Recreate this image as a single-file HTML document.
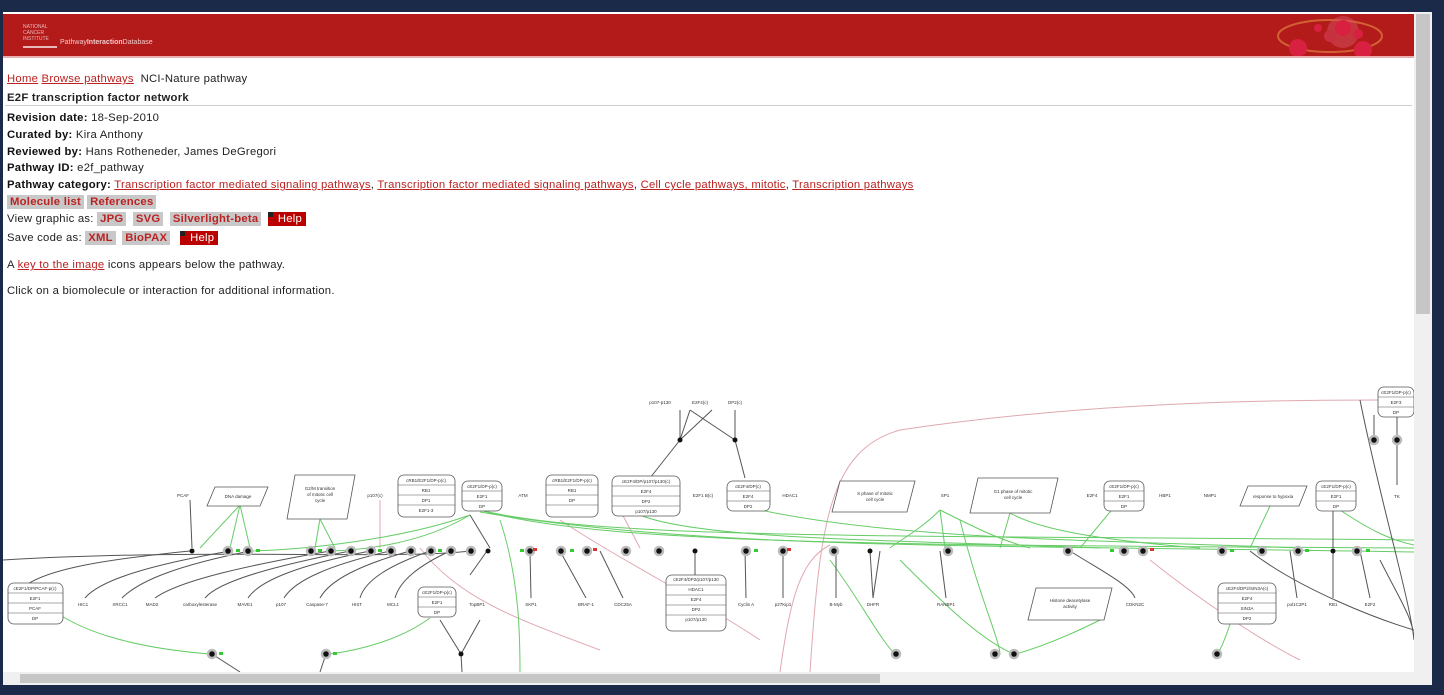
<!DOCTYPE html>
<html><head><meta charset="utf-8"><style>
body{margin:0;width:1444px;height:695px;background:#1c2a4a;overflow:hidden;font-family:"Liberation Sans",sans-serif;position:relative}
#page{position:absolute;left:3px;top:12px;width:1411px;height:660px;background:#fff;overflow:hidden}
#hdr{position:absolute;left:0;top:2px;width:1411px;height:42px;background:#b31a1a;border-bottom:2px solid #e6b0b0}
.t{position:absolute;left:4px;font-size:11.3px;letter-spacing:0.25px;color:#222;white-space:nowrap}
.t b{color:#111}
a{color:#b22;text-decoration:underline}
.btn{background:#c8c8c8;color:#b22;font-weight:bold;padding:1px 3px;margin-right:3px}
.hb{background:#b00;color:#fff;padding:1px 4px 1px 10px;position:relative}
.hb:before{content:"";position:absolute;left:0;top:0;width:5px;height:5px;background:#222}
#vs{position:absolute;left:1414px;top:12px;width:18px;height:660px;background:#f0f0f0}
#vt{position:absolute;left:1416px;top:14px;width:14px;height:300px;background:#c6c6c6}
#hs{position:absolute;left:3px;top:672px;width:1429px;height:13px;background:#f0f0f0}
#ht{position:absolute;left:20px;top:674px;width:860px;height:9px;background:#c6c6c6}
svg text{font-family:"Liberation Sans",sans-serif;font-size:4.5px;fill:#333}
</style></head><body>
<div id="page">
<div id="hdr">
<div style="position:absolute;left:20px;top:10px;width:34px;height:22px;border-bottom:2px solid #e8b8b8;color:#e8b8b8;font-size:5px;line-height:6px">NATIONAL<br>CANCER<br>INSTITUTE</div>
<div style="position:absolute;left:57px;top:25px;font-size:7px;color:#f0c8c8">Pathway<b>Interaction</b>Database</div>
<svg style="position:absolute;left:1265px;top:0" width="130" height="42"><ellipse cx="62" cy="22" rx="52" ry="16" fill="none" stroke="#e08040" stroke-width="2" opacity=".7"/><circle cx="75" cy="18" r="16" fill="#d85060" opacity=".5"/><circle cx="30" cy="34" r="9" fill="#d82040"/><circle cx="75" cy="14" r="8" fill="#d82040"/><circle cx="95" cy="36" r="9" fill="#d82040"/><circle cx="62" cy="22" r="6" fill="#c83040"/><circle cx="90" cy="20" r="5" fill="#d82040"/><circle cx="50" cy="14" r="4" fill="#d82040"/></svg>
</div>
<div class="t" style="top:61px"><a>Home</a> <a>Browse pathways</a> &nbsp;NCI-Nature pathway</div>
<div class="t" style="top:80px;font-weight:bold">E2F transcription factor network</div>
<div style="position:absolute;left:2px;top:93px;width:1407px;height:1px;background:#ccc"></div>
<div class="t" style="top:100px"><b>Revision date:</b> 18-Sep-2010</div>
<div class="t" style="top:117px"><b>Curated by:</b> Kira Anthony</div>
<div class="t" style="top:134px"><b>Reviewed by:</b> Hans Rotheneder, James DeGregori</div>
<div class="t" style="top:150px"><b>Pathway ID:</b> e2f_pathway</div>
<div class="t" style="top:167px"><b>Pathway category:</b> <a>Transcription factor mediated signaling pathways</a>, <a>Transcription factor mediated signaling pathways</a>, <a>Cell cycle pathways, mitotic</a>, <a>Transcription pathways</a></div>
<div class="t" style="top:184px"><span class="btn">Molecule list</span><span class="btn">References</span></div>
<div class="t" style="top:201px">View graphic as: <span class="btn">JPG</span> <span class="btn">SVG</span> <span class="btn">Silverlight-beta</span> <span class="hb">Help</span></div>
<div class="t" style="top:220px">Save code as: <span class="btn">XML</span> <span class="btn">BioPAX</span> &nbsp;<span class="hb">Help</span></div>
<div class="t" style="top:247px">A <a>key to the image</a> icons appears below the pathway.</div>
<div class="t" style="top:273px">Click on a biomolecule or interaction for additional information.</div>
<svg style="position:absolute;left:0;top:0" width="1411" height="660" viewBox="3 12 1411 660">
<g fill="none" stroke-width="1">
<g stroke="#e0a8b0">
<path d="M810 672 C820 520 830 450 900 430 C1100 400 1300 400 1380 400"/>
<path d="M780 672 C790 600 800 560 830 545"/>
<path d="M560 520 C620 560 700 600 760 640"/>
<path d="M420 548 C460 600 520 620 600 650"/>
<path d="M380 500 L380 548"/>
<path d="M620 510 L640 548"/>
<path d="M1150 560 C1200 600 1260 640 1300 660"/>
</g>
<g stroke="#6c6">
<path d="M480 510 C600 540 900 535 1414 540"/>
<path d="M480 510 C600 545 900 545 1414 548"/>
<path d="M480 512 C700 550 1000 545 1414 552"/>
<path d="M470 515 C400 540 300 550 250 551"/>
<path d="M470 515 C420 545 360 550 330 551"/>
<path d="M240 505 L230 548"/><path d="M240 505 L250 548"/><path d="M240 505 L200 548"/>
<path d="M320 519 L315 548"/><path d="M320 519 L335 548"/>
<path d="M640 515 C700 540 900 540 1100 548"/>
<path d="M760 510 C900 540 1100 540 1300 548"/>
<path d="M940 510 C920 530 900 540 890 548"/>
<path d="M940 510 L945 548"/><path d="M940 510 C980 530 1000 540 1030 548"/>
<path d="M1010 513 C1040 530 1100 540 1200 548"/>
<path d="M1010 513 L1000 548"/>
<path d="M960 520 C980 600 1000 640 1000 655"/>
<path d="M500 520 C520 580 520 640 520 672"/>
<path d="M830 560 C860 600 880 640 896 655"/>
<path d="M60 615 C100 640 160 650 210 654"/>
<path d="M430 618 C400 640 360 650 330 654"/>
<path d="M1120 500 L1080 548"/><path d="M1270 506 L1250 548"/>
<path d="M1340 510 C1370 530 1390 540 1414 545"/>
<path d="M1100 620 C1060 640 1030 650 1016 654"/>
<path d="M1230 624 C1225 640 1220 650 1218 654"/>
<path d="M900 560 C940 600 980 640 1014 654"/>
</g>
<g stroke="#555">
<path d="M190 551 C100 560 40 570 20 590"/>
<path d="M230 551 C150 565 100 580 85 598"/>
<path d="M250 551 C180 565 140 580 122 598"/>
<path d="M330 551 C250 565 180 580 155 598"/>
<path d="M350 551 C280 565 220 580 205 598"/>
<path d="M370 551 C300 565 260 580 248 598"/>
<path d="M390 551 C330 565 295 580 284 598"/>
<path d="M410 551 C360 565 330 580 320 598"/>
<path d="M430 551 C390 565 365 580 360 598"/>
<path d="M450 551 C420 565 400 580 395 598"/>
<path d="M470 551 C400 560 200 548 3 560"/>
<path d="M487 551 L470 575"/>
<path d="M530 551 L531 598"/><path d="M560 551 L586 598"/><path d="M600 551 L623 598"/>
<path d="M695 551 L695 575"/><path d="M745 551 L746 598"/><path d="M783 551 L783 598"/>
<path d="M836 551 L836 598"/><path d="M870 551 L873 598"/><path d="M880 551 L873 598"/>
<path d="M940 551 L946 598"/><path d="M1070 551 C1100 570 1130 585 1135 598"/>
<path d="M1290 551 L1297 598"/><path d="M1333 551 L1333 598"/><path d="M1360 551 L1370 598"/>
<path d="M680 410 L680 440"/><path d="M690 410 L680 440 L712 410"/><path d="M735 410 L735 440"/><path d="M690 410 L735 440"/>
<path d="M680 440 L650 478"/><path d="M735 440 L745 478"/>
<path d="M1374 440 L1374 415"/><path d="M1397 440 L1397 415"/><path d="M1397 440 L1397 485"/>
<path d="M190 500 L192 548"/><path d="M470 515 L490 548"/>
<path d="M1333 505 L1333 548"/>
<path d="M212 654 L240 672"/><path d="M326 654 L320 672"/><path d="M461 654 L462 672"/><path d="M440 620 L461 654"/><path d="M480 620 L461 654"/>
<path d="M1360 400 C1380 500 1410 600 1414 640"/>
<path d="M1380 560 C1400 600 1414 620 1414 640"/>
<path d="M1250 551 C1300 590 1380 620 1414 630"/>
</g>
</g>
<g fill="#fff" stroke="#555" stroke-width=".8">
<rect x="398" y="475" width="57" height="42" rx="6"/><rect x="462" y="481" width="40" height="30" rx="6"/>
<rect x="546" y="475" width="52" height="42" rx="6"/><rect x="612" y="476" width="68" height="40" rx="6"/>
<rect x="727" y="481" width="43" height="30" rx="6"/><rect x="1104" y="481" width="40" height="30" rx="6"/>
<rect x="1316" y="481" width="40" height="30" rx="6"/><rect x="1378" y="387" width="36" height="30" rx="6"/>
<rect x="8" y="583" width="55" height="41" rx="6"/><rect x="418" y="587" width="38" height="30" rx="6"/>
<rect x="666" y="575" width="60" height="56" rx="6"/><rect x="1218" y="583" width="58" height="41" rx="6"/>
<polygon points="215,487 268,487 260,506 207,506"/><polygon points="295,475 355,475 347,519 287,519"/>
<polygon points="840,481 915,481 907,512 832,512"/><polygon points="978,478 1058,478 1050,513 970,513"/>
<polygon points="1248,486 1307,486 1299,506 1240,506"/><polygon points="1036,588 1112,588 1104,620 1028,620"/>
</g>
<g stroke="#555" stroke-width=".5">
<path d="M398 485h57M398 495h57M398 505h57M462 491h40M462 501h40M546 485h52M546 495h52M546 505h52M612 486h68M612 496h68M612 506h68M727 491h43M727 501h43M1104 491h40M1104 501h40M1316 491h40M1316 501h40M1378 397h36M1378 407h36M8 593h55M8 603h55M8 613h55M418 597h38M418 607h38M666 585h60M666 595h60M666 605h60M666 615h60M1218 593h58M1218 603h58M1218 613h58"/>
</g>
<g fill="#111" stroke="#bbb" stroke-width="2.5">
<circle cx="228" cy="551" r="4"/><circle cx="248" cy="551" r="4"/><circle cx="311" cy="551" r="4"/><circle cx="331" cy="551" r="4"/><circle cx="351" cy="551" r="4"/><circle cx="371" cy="551" r="4"/><circle cx="391" cy="551" r="4"/><circle cx="411" cy="551" r="4"/><circle cx="431" cy="551" r="4"/><circle cx="451" cy="551" r="4"/><circle cx="471" cy="551" r="4"/><circle cx="530" cy="551" r="4"/><circle cx="561" cy="551" r="4"/><circle cx="587" cy="551" r="4"/><circle cx="626" cy="551" r="4"/><circle cx="659" cy="551" r="4"/><circle cx="746" cy="551" r="4"/><circle cx="783" cy="551" r="4"/><circle cx="834" cy="551" r="4"/><circle cx="948" cy="551" r="4"/><circle cx="1068" cy="551" r="4"/><circle cx="1124" cy="551" r="4"/><circle cx="1143" cy="551" r="4"/><circle cx="1222" cy="551" r="4"/><circle cx="1262" cy="551" r="4"/><circle cx="1298" cy="551" r="4"/><circle cx="1357" cy="551" r="4"/><circle cx="1374" cy="440" r="4"/><circle cx="1397" cy="440" r="4"/><circle cx="212" cy="654" r="4"/><circle cx="326" cy="654" r="4"/><circle cx="896" cy="654" r="4"/><circle cx="995" cy="654" r="4"/><circle cx="1014" cy="654" r="4"/><circle cx="1217" cy="654" r="4"/>
</g>
<g fill="#111"><circle cx="192" cy="551" r="2.5"/><circle cx="488" cy="551" r="2.5"/><circle cx="695" cy="551" r="2.5"/><circle cx="870" cy="551" r="2.5"/><circle cx="1333" cy="551" r="2.5"/><circle cx="680" cy="440" r="2.5"/><circle cx="735" cy="440" r="2.5"/><circle cx="461" cy="654" r="2.5"/></g>
<g fill="#3c3"><rect x="236" y="549" width="4" height="3"/><rect x="256" y="549" width="4" height="3"/><rect x="318" y="549" width="4" height="3"/><rect x="378" y="549" width="4" height="3"/><rect x="438" y="549" width="4" height="3"/><rect x="520" y="549" width="4" height="3"/><rect x="570" y="549" width="4" height="3"/><rect x="754" y="549" width="4" height="3"/><rect x="1110" y="549" width="4" height="3"/><rect x="1230" y="549" width="4" height="3"/><rect x="1305" y="549" width="4" height="3"/><rect x="1366" y="549" width="4" height="3"/><rect x="219" y="652" width="4" height="3"/><rect x="333" y="652" width="4" height="3"/></g>
<g fill="#d33"><rect x="533" y="548" width="4" height="3"/><rect x="593" y="548" width="4" height="3"/><rect x="787" y="548" width="4" height="3"/><rect x="1150" y="548" width="4" height="3"/></g>
<g text-anchor="middle">
<text x="183" y="497">PCAF</text><text x="238" y="498">DNA damage</text><text x="320" y="490">G2/M transition</text><text x="320" y="496">of mitotic cell</text><text x="320" y="502">cycle</text><text x="375" y="497">p107(c)</text><text x="426" y="482">cRB1/E2F1/DP-p(c)</text><text x="426" y="492">RB1</text><text x="426" y="502">DP1</text><text x="426" y="512">E2F1-3</text><text x="482" y="488">cE2F1/DP-p(c)</text><text x="482" y="498">E2F1</text><text x="482" y="508">DP</text><text x="523" y="497">ATM</text><text x="572" y="482">cRB1/E2F1/DP-p(c)</text><text x="572" y="492">RB1</text><text x="572" y="502">DP</text><text x="646" y="483">cE2F4/DP/p107/p130(c)</text><text x="646" y="493">E2F4</text><text x="646" y="503">DP2</text><text x="646" y="513">p107/p130</text><text x="748" y="488">cE2F4/DP(c)</text><text x="748" y="498">E2F4</text><text x="748" y="508">DP2</text><text x="703" y="497">E2F1 B(c)</text><text x="790" y="497">HDAC1</text><text x="875" y="495">S phase of mitotic</text><text x="875" y="501">cell cycle</text><text x="945" y="497">SP1</text><text x="1013" y="493">G1 phase of mitotic</text><text x="1013" y="499">cell cycle</text><text x="1092" y="497">E2F4</text><text x="1124" y="488">cE2F1/DP-p(c)</text><text x="1124" y="498">E2F1</text><text x="1124" y="508">DP</text><text x="1165" y="497">HBP1</text><text x="1210" y="497">NMP1</text><text x="1273" y="498">response to hypoxia</text><text x="1336" y="488">cE2F1/DP-p(c)</text><text x="1336" y="498">E2F1</text><text x="1336" y="508">DP</text><text x="1396" y="394">cE2F1/DP-p(c)</text><text x="1396" y="404">E2F3</text><text x="1396" y="414">DP</text><text x="1397" y="498">TK</text>
<text x="660" y="404">p107-p130</text><text x="700" y="404">E2F4(c)</text><text x="735" y="404">DP2(c)</text>
<text x="35" y="590">cE2F1/DP/PCAF-p(c)</text><text x="35" y="600">E2F1</text><text x="35" y="610">PCAF</text><text x="35" y="620">DP</text>
<text x="83" y="606">HIC1</text><text x="120" y="606">XRCC1</text><text x="152" y="606">MAD2</text><text x="200" y="606">carboxylesterase</text><text x="245" y="606">MAVE1</text><text x="281" y="606">p107</text><text x="317" y="606">Caspase-7</text><text x="357" y="606">HIST</text><text x="393" y="606">MCL1</text><text x="437" y="594">cE2F1/DP-p(c)</text><text x="437" y="604">E2F1</text><text x="437" y="614">DP</text><text x="477" y="606">TopBP1</text><text x="531" y="606">SKP1</text><text x="586" y="606">BRAF-1</text><text x="623" y="606">CDC25A</text>
<text x="696" y="581">cE2F4/DP2/p107/p130</text><text x="696" y="591">HDAC1</text><text x="696" y="601">E2F4</text><text x="696" y="611">DP2</text><text x="696" y="621">p107/p130</text>
<text x="746" y="606">Cyclin A</text><text x="783" y="606">p27Kip1</text><text x="836" y="606">B-Myb</text><text x="873" y="606">DHFR</text><text x="946" y="606">RANBP1</text><text x="1070" y="602">Histone deacetylase</text><text x="1070" y="608">activity</text><text x="1135" y="606">CDKN2C</text>
<text x="1247" y="590">cE2F4/DP2/SIN3A(c)</text><text x="1247" y="600">E2F4</text><text x="1247" y="610">SIN3A</text><text x="1247" y="620">DP2</text>
<text x="1297" y="606">pol1C2P1</text><text x="1333" y="606" fill="#33a">RB1</text><text x="1370" y="606">E2F2</text>
</g>
</svg>
</div>
<div id="vs"></div><div id="vt"></div>
<div id="hs"></div><div id="ht"></div>
</body></html>
